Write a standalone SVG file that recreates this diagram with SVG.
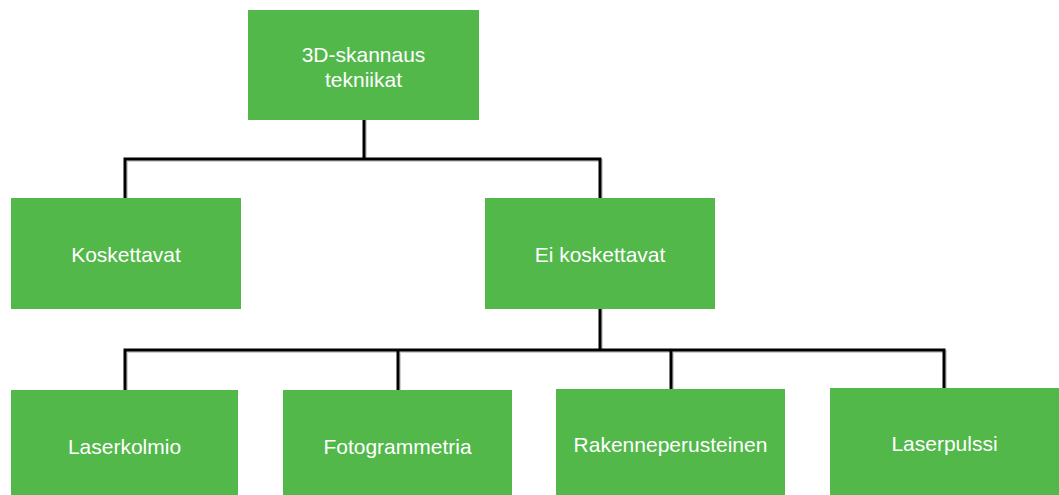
<svg xmlns="http://www.w3.org/2000/svg" width="1059" height="495" viewBox="0 0 1059 495">
<style>
.box{fill:#52B84A;}
.lbl{font-family:"Liberation Sans",Arial,sans-serif;font-size:21px;fill:#FFFFFF;text-anchor:middle;}
.ln{fill:none;stroke:#000;stroke-width:3;stroke-linejoin:miter;stroke-linecap:square;}
.sh{fill:none;stroke:#000;stroke-opacity:0.18;stroke-width:3;stroke-linecap:square;}
</style>
<rect width="1059" height="495" fill="#FFFFFF"/>
<g id="connectors">
<path class="sh" d="M365.5,121 V160.5 M126.5,198 V160.5 H601.5 V198"/>
<path class="sh" d="M601.5,310 V351.5 M126.5,389 V351.5 H945.5 V389 M399.5,351.5 V389 M672.5,351.5 V389"/>
<path class="ln" d="M364,121 V159 M125,198 V159 H600 V198"/>
<path class="ln" d="M600,310 V350 M125,389 V350 H944 V389 M398,350 V389 M671,350 V389"/>
</g>
<g id="n-root">
<rect class="box" x="248" y="10" width="231" height="110"/>
<text class="lbl" x="363.5" y="62">3D-skannaus</text>
<text class="lbl" x="363.5" y="87">tekniikat</text>
</g>
<g id="n-koskettavat">
<rect class="box" x="11" y="198" width="230" height="111"/>
<text class="lbl" x="126" y="262">Koskettavat</text>
</g>
<g id="n-eikoskettavat">
<rect class="box" x="485" y="198" width="230" height="111"/>
<text class="lbl" x="600" y="262">Ei koskettavat</text>
</g>
<g id="n-laserkolmio">
<rect class="box" x="11" y="390" width="227" height="110"/>
<text class="lbl" x="124.5" y="454">Laserkolmio</text>
</g>
<g id="n-fotogrammetria">
<rect class="box" x="283" y="390" width="229" height="110"/>
<text class="lbl" x="397.5" y="454">Fotogrammetria</text>
</g>
<g id="n-rakenneperusteinen">
<rect class="box" x="556" y="389" width="229" height="110"/>
<text class="lbl" x="670.5" y="452">Rakenneperusteinen</text>
</g>
<g id="n-laserpulssi">
<rect class="box" x="830" y="388" width="229" height="110"/>
<text class="lbl" x="944.5" y="451">Laserpulssi</text>
</g>
</svg>
